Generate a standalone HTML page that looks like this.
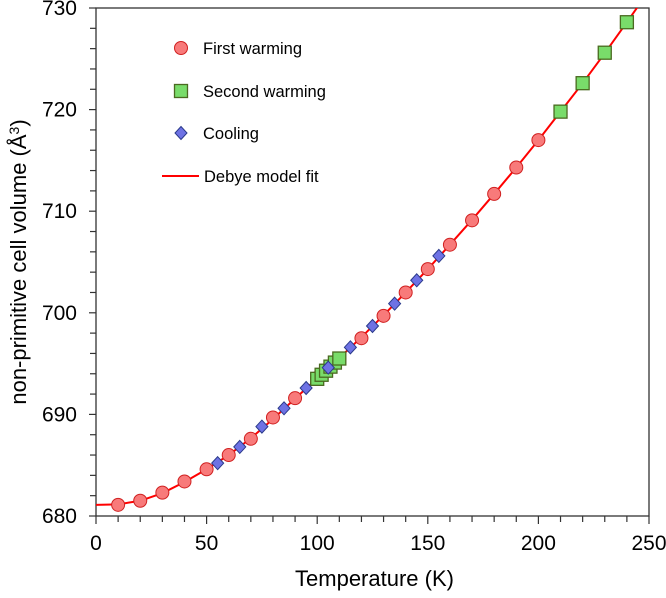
<!DOCTYPE html>
<html><head><meta charset="utf-8"><style>
body{margin:0;background:#fff;width:666px;height:593px;overflow:hidden}
svg{font-family:"Liberation Sans","DejaVu Sans",sans-serif}
</style></head><body>
<svg id="chart" width="666" height="593" viewBox="0 0 666 593" xmlns="http://www.w3.org/2000/svg"></svg>
<script>
const xTicks=[0,50,100,150,200,250];
const yTicks=[680,690,700,710,720,730];
const firstT=[10,20,30,40,50,60,70,80,90,100,110,120,130,140,150,160,170,180,190,200];
const firstV=[681.1,681.5,682.3,683.4,684.6,686.0,687.6,689.7,691.6,693.6,695.5,697.5,699.7,702.0,704.3,706.7,709.1,711.7,714.3,717.0];
const secondT=[100,102,104,106,108,110,210,220,230,240];
const secondV=[693.5,693.9,694.3,694.7,695.1,695.5,719.8,722.6,725.6,728.6];
const coolT=[55,65,75,85,95,105,115,125,135,145,155];
const coolV=[685.2,686.8,688.8,690.6,692.6,694.6,696.6,698.7,700.9,703.2,705.6];
const fitT=[0,10,20,30,40,50,60,70,80,90,100,110,120,130,140,150,160,170,180,190,200,210,220,230,240,250,257];
const fitV=[681.1,681.15,681.5,682.25,683.35,684.6,686.0,687.65,689.55,691.55,693.55,695.55,697.6,699.75,702.0,704.3,706.7,709.15,711.7,714.3,717.0,719.8,722.6,725.55,728.6,731.7,733.9];
const X0=96,X1=649,Y0=516,Y1=8;
const sx=t=>X0+(t-0)/(250-0)*(X1-X0);
const sy=v=>Y0-(v-680)/(730-680)*(Y0-Y1);
const svg=document.getElementById('chart');
const NS='http://www.w3.org/2000/svg';
function mk(tag,attrs,parent){const e=document.createElementNS(NS,tag);for(const k in attrs)e.setAttribute(k,attrs[k]);(parent||svg).appendChild(e);return e;}
const defs=mk('defs',{});
const cp=mk('clipPath',{id:'clip'},defs);mk('rect',{x:X0,y:Y1,width:X1-X0,height:Y0-Y1},cp);
const frame=mk('rect',{x:X0,y:Y1,width:X1-X0,height:Y0-Y1,fill:'none',stroke:'#333','stroke-width':1.3});


for(let t=0;t<=250;t+=10){const major=t%50===0;mk('line',{x1:sx(t),x2:sx(t),y1:Y0,y2:Y0+(major?8:6),stroke:'#333','stroke-width':1.2});}
xTicks.forEach(t=>{const e=mk('text',{x:sx(t),y:Y0+34,'text-anchor':'middle','font-size':21});e.textContent=t;

});
for(let v=680;v<=730;v+=2){const major=v%10===0;mk('line',{x1:X0-(major?7:6),x2:X0,y1:sy(v),y2:sy(v),stroke:'#333','stroke-width':1.2});}
yTicks.forEach(v=>{const e=mk('text',{x:X0-19,y:sy(v)+7,'text-anchor':'end','font-size':21});e.textContent=v;

});
const xt=mk('text',{x:(X0+X1)/2+2,y:Y0+70,'text-anchor':'middle','font-size':22});xt.textContent='Temperature (K)';


const yt=mk('text',{x:0,y:0,'text-anchor':'middle','font-size':22,transform:`translate(26,${(Y0+Y1)/2}) rotate(-90)`});
yt.innerHTML='non-primitive  cell volume (Å<tspan dy="-7" font-size="14">3</tspan><tspan dy="7">)</tspan>';


const g=mk('g',{'clip-path':'url(#clip)'});
const fit=mk('polyline',{points:fitT.map((t,i)=>sx(t)+','+sy(fitV[i])).join(' '),fill:'none',stroke:'#f00','stroke-width':2},g);


function circ(x,y,p){return mk('circle',{cx:x,cy:y,r:6.5,fill:'#f87a7a',stroke:'#d02020','stroke-width':1},p);}
function sq(x,y,p){return mk('rect',{x:x-6.5,y:y-6.5,width:13,height:13,fill:'#79dc6a',stroke:'#4a6a20','stroke-width':1.3},p);}
function dia(x,y,p){return mk('polygon',{points:`${x},${y-6.5} ${x+6},${y} ${x},${y+6.5} ${x-6},${y}`,fill:'#6e72e4',stroke:'#2a3a8a','stroke-width':1},p);}
firstT.forEach((t,i)=>{const e=circ(sx(t),sy(firstV[i]));

});
secondT.forEach((t,i)=>{const e=sq(sx(t),sy(secondV[i]));

});
coolT.forEach((t,i)=>{const e=dia(sx(t),sy(coolV[i]));

});
const lg=mk('g',{});


const ly=[48,91,133,176],lbl=['First warming','Second warming','Cooling','Debye model fit'];
circ(181,ly[0],lg);sq(181,ly[1],lg);dia(181,ly[2],lg);
mk('line',{x1:162,x2:199,y1:ly[3],y2:ly[3],stroke:'#f00','stroke-width':2},lg);
lbl.forEach((s,i)=>{const e=mk('text',{x:i===3?204:203,y:ly[i]+6,'font-size':16.5},lg);e.textContent=s;

});
</script>
</body></html>
